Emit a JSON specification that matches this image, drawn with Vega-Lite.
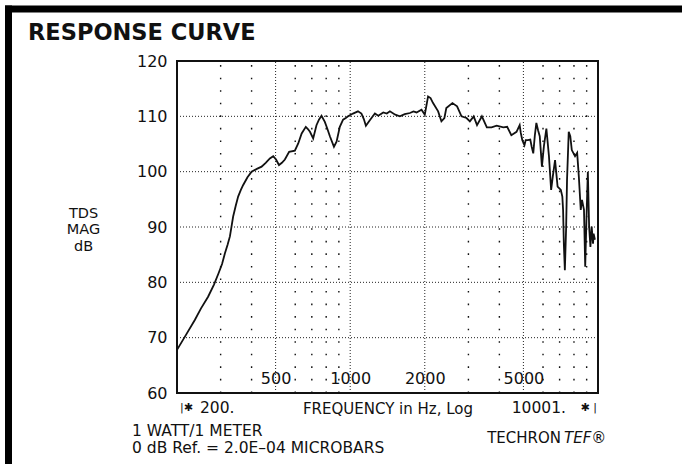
{
  "$schema": "https://vega.github.io/schema/vega-lite/v6.json",
  "width": 674,
  "height": 455.5,
  "autosize": {"type": "none"},
  "padding": {"left": 8, "top": 8.5, "right": 0, "bottom": 0},
  "background": "white",
  "config": {
    "font": "DejaVu Sans",
    "view": {"stroke": null}
  },
  "title": {
    "text": "RESPONSE CURVE",
    "anchor": "start",
    "frame": "group",
    "dx": 20,
    "offset": -57,
    "baseline": "alphabetic",
    "font": "DejaVu Sans",
    "fontSize": 22.5,
    "fontWeight": "bold",
    "color": "#111"
  },
  "datasets": {
    "curve": [
      {"f": 200, "db": 67.8}, {"f": 218, "db": 70.6}, {"f": 236, "db": 73.2}, {"f": 250, "db": 75.3},
      {"f": 267, "db": 77.4}, {"f": 282, "db": 79.6}, {"f": 294, "db": 81.6}, {"f": 304, "db": 83.3},
      {"f": 312, "db": 85.2}, {"f": 320, "db": 86.8}, {"f": 327, "db": 88.3}, {"f": 337, "db": 91.9},
      {"f": 345, "db": 93.8}, {"f": 353, "db": 95.5}, {"f": 362, "db": 96.7}, {"f": 370, "db": 97.6},
      {"f": 385, "db": 99.0}, {"f": 400, "db": 100.0}, {"f": 420, "db": 100.5}, {"f": 439, "db": 100.9},
      {"f": 456, "db": 101.6}, {"f": 474, "db": 102.4}, {"f": 489, "db": 102.8}, {"f": 502, "db": 102.2},
      {"f": 516, "db": 101.2}, {"f": 530, "db": 101.6}, {"f": 545, "db": 102.2}, {"f": 567, "db": 103.6},
      {"f": 598, "db": 103.8}, {"f": 617, "db": 105.1}, {"f": 637, "db": 106.9}, {"f": 662, "db": 108.1},
      {"f": 675, "db": 107.7}, {"f": 688, "db": 107.2}, {"f": 709, "db": 106.0}, {"f": 731, "db": 108.4},
      {"f": 748, "db": 109.4}, {"f": 766, "db": 110.1}, {"f": 790, "db": 109.0}, {"f": 808, "db": 107.8},
      {"f": 828, "db": 106.4}, {"f": 860, "db": 104.5}, {"f": 881, "db": 105.4}, {"f": 908, "db": 108.1},
      {"f": 936, "db": 109.4}, {"f": 960, "db": 109.7}, {"f": 980, "db": 110.0}, {"f": 1026, "db": 110.5},
      {"f": 1075, "db": 110.9}, {"f": 1110, "db": 110.5}, {"f": 1135, "db": 109.5}, {"f": 1157, "db": 108.3},
      {"f": 1200, "db": 109.3}, {"f": 1258, "db": 110.5}, {"f": 1298, "db": 110.1}, {"f": 1360, "db": 110.7},
      {"f": 1405, "db": 110.5}, {"f": 1446, "db": 110.9}, {"f": 1520, "db": 110.3}, {"f": 1586, "db": 110.0},
      {"f": 1660, "db": 110.4}, {"f": 1742, "db": 110.6}, {"f": 1800, "db": 110.9}, {"f": 1853, "db": 110.7},
      {"f": 1940, "db": 111.2}, {"f": 2000, "db": 110.3}, {"f": 2062, "db": 113.6}, {"f": 2110, "db": 113.3},
      {"f": 2160, "db": 112.4}, {"f": 2264, "db": 110.9}, {"f": 2334, "db": 109.1}, {"f": 2400, "db": 109.7},
      {"f": 2443, "db": 111.5}, {"f": 2586, "db": 112.4}, {"f": 2700, "db": 111.8}, {"f": 2813, "db": 110.0},
      {"f": 2948, "db": 109.7}, {"f": 3040, "db": 109.1}, {"f": 3150, "db": 110.0}, {"f": 3250, "db": 108.4},
      {"f": 3400, "db": 110.0}, {"f": 3560, "db": 108.0}, {"f": 3720, "db": 108.0}, {"f": 3900, "db": 108.3},
      {"f": 4150, "db": 108.0}, {"f": 4300, "db": 108.1}, {"f": 4470, "db": 106.6}, {"f": 4690, "db": 107.2},
      {"f": 4830, "db": 108.4}, {"f": 4880, "db": 107.0}, {"f": 4950, "db": 105.7}, {"f": 5050, "db": 104.8},
      {"f": 5110, "db": 105.7}, {"f": 5210, "db": 105.7}, {"f": 5330, "db": 105.8}, {"f": 5400, "db": 104.5},
      {"f": 5480, "db": 103.3}, {"f": 5560, "db": 106.5}, {"f": 5640, "db": 108.8}, {"f": 5730, "db": 107.5},
      {"f": 5820, "db": 106.4}, {"f": 5940, "db": 100.9}, {"f": 6050, "db": 104.6}, {"f": 6190, "db": 107.8},
      {"f": 6340, "db": 102.8}, {"f": 6470, "db": 96.7}, {"f": 6570, "db": 99.1}, {"f": 6710, "db": 102.1},
      {"f": 6870, "db": 97.3}, {"f": 7080, "db": 96.7}, {"f": 7180, "db": 95.5}, {"f": 7230, "db": 93.1},
      {"f": 7280, "db": 87.0}, {"f": 7350, "db": 82.2}, {"f": 7440, "db": 90.1}, {"f": 7500, "db": 98.5},
      {"f": 7620, "db": 107.2}, {"f": 7730, "db": 106.4}, {"f": 7840, "db": 103.9}, {"f": 8080, "db": 102.8},
      {"f": 8240, "db": 103.4}, {"f": 8370, "db": 99.1}, {"f": 8520, "db": 93.1}, {"f": 8620, "db": 94.9},
      {"f": 8780, "db": 93.1}, {"f": 8880, "db": 82.8}, {"f": 8990, "db": 91.9}, {"f": 9100, "db": 100.0},
      {"f": 9210, "db": 90.1}, {"f": 9320, "db": 86.4}, {"f": 9430, "db": 90.1}, {"f": 9550, "db": 87.0},
      {"f": 9600, "db": 88.8}, {"f": 9720, "db": 87.7}
    ],
    "hgrid": [{"db": 70}, {"db": 80}, {"db": 90}, {"db": 100}, {"db": 110}],
    "vgrid": [{"f": 500}, {"f": 1000}, {"f": 2000}, {"f": 5000}],
    "minor": [
      {"f": 300}, {"f": 400}, {"f": 600}, {"f": 700}, {"f": 800}, {"f": 900},
      {"f": 3000}, {"f": 4000}, {"f": 6000}, {"f": 7000}, {"f": 8000}, {"f": 9000}
    ],
    "border": [{"bx": 0, "by": 0}, {"bx": 1, "by": 1}]
  },
  "resolve": {"scale": {"x": "independent", "y": "independent"}},
  "layer": [
    {
      "layer": [
        {
          "data": {"name": "hgrid"},
          "mark": {"type": "rule", "strokeDash": [1, 2], "color": "#222", "strokeWidth": 1},
          "encoding": {
            "y": {
              "field": "db",
              "type": "quantitative",
              "scale": {"domain": [60, 120], "range": [384.5, 52.5], "zero": false, "nice": false},
              "axis": {
                "values": [60, 70, 80, 90, 100, 110, 120],
                "orient": "left",
                "offset": -169,
                "domain": false,
                "ticks": false,
                "tickSize": 0,
                "grid": false,
                "labelPadding": 10,
                "labelFontSize": 16,
                "labelColor": "#111",
                "labelFlush": false,
                "labelBaseline": "middle",
                "title": ["TDS", "MAG", "dB"],
                "titleAngle": 0,
                "titleAlign": "center",
                "titleBaseline": "middle",
                "titleX": -94,
                "titleY": 204.5,
                "titleFontSize": 14.5,
                "titleFontWeight": "normal",
                "titleLineHeight": 16.5,
                "titleColor": "#111"
              }
            },
            "x": {"datum": 200},
            "x2": {"datum": 10001}
          }
        },
        {
          "data": {"name": "vgrid"},
          "mark": {"type": "rule", "strokeDash": [1, 2], "color": "#222", "strokeWidth": 1},
          "encoding": {
            "x": {
              "field": "f",
              "type": "quantitative",
              "scale": {"type": "log", "domain": [200, 10001], "range": [169, 590], "nice": false},
              "axis": {
                "values": [500, 1000, 2000, 5000],
                "format": "d",
                "orient": "bottom",
                "offset": -71,
                "domain": false,
                "ticks": false,
                "tickSize": 0,
                "grid": false,
                "labelPadding": -15,
                "labelBaseline": "middle",
                "labelFontSize": 16,
                "labelColor": "#111",
                "labelFlush": false,
                "labelOverlap": false,
                "title": "FREQUENCY in Hz, Log",
                "titleFontSize": 15,
                "titleFontWeight": "normal",
                "titleColor": "#111",
                "titleBaseline": "middle",
                "titleY": 15
              }
            },
            "y": {"datum": 60},
            "y2": {"datum": 120}
          }
        },
        {
          "data": {"name": "minor"},
          "mark": {"type": "rule", "strokeDash": [1.6, 10.95], "color": "#111", "strokeWidth": 1.4},
          "encoding": {
            "x": {"field": "f", "type": "quantitative"},
            "y": {"datum": 60},
            "y2": {"datum": 120}
          }
        },
        {
          "data": {"values": [{}]},
          "mark": {"type": "rect", "fill": "transparent", "stroke": "#111", "strokeWidth": 2},
          "encoding": {
            "x": {"datum": 200},
            "x2": {"datum": 10001},
            "y": {"datum": 60},
            "y2": {"datum": 120}
          }
        },
        {
          "data": {"name": "curve"},
          "mark": {"type": "line", "color": "#111", "strokeWidth": 1.8},
          "encoding": {
            "x": {"field": "f", "type": "quantitative"},
            "y": {"field": "db", "type": "quantitative"}
          }
        },
        {
          "data": {"values": [{}]},
          "mark": {"type": "text", "align": "left", "baseline": "middle", "dx": 3, "dy": 15, "fontSize": 11, "color": "#111"},
          "encoding": {"x": {"datum": 200}, "y": {"datum": 60}, "text": {"value": "|✱"}}
        },
        {
          "data": {"values": [{}]},
          "mark": {"type": "text", "align": "left", "baseline": "middle", "dx": 23, "dy": 15, "fontSize": 15.5, "color": "#111"},
          "encoding": {"x": {"datum": 200}, "y": {"datum": 60}, "text": {"value": "200."}}
        },
        {
          "data": {"values": [{}]},
          "mark": {"type": "text", "align": "right", "baseline": "middle", "dx": -32, "dy": 15, "fontSize": 15.5, "color": "#111"},
          "encoding": {"x": {"datum": 10001}, "y": {"datum": 60}, "text": {"value": "10001."}}
        },
        {
          "data": {"values": [{}]},
          "mark": {"type": "text", "align": "right", "baseline": "middle", "dx": -1, "dy": 15, "fontSize": 11, "color": "#111"},
          "encoding": {"x": {"datum": 10001}, "y": {"datum": 60}, "text": {"value": "✱ |"}}
        },
        {
          "data": {"values": [{}]},
          "mark": {"type": "text", "align": "left", "baseline": "middle", "dx": -45, "dy": 37.5, "fontSize": 15.5, "color": "#111"},
          "encoding": {"x": {"datum": 200}, "y": {"datum": 60}, "text": {"value": "1 WATT/1 METER"}}
        },
        {
          "data": {"values": [{}]},
          "mark": {"type": "text", "align": "left", "baseline": "middle", "dx": -45, "dy": 54.5, "fontSize": 15.5, "color": "#111"},
          "encoding": {"x": {"datum": 200}, "y": {"datum": 60}, "text": {"value": "0 dB Ref. = 2.0E–04 MICROBARS"}}
        },
        {
          "data": {"values": [{}]},
          "mark": {"type": "text", "align": "right", "baseline": "middle", "dx": -37, "dy": 45, "fontSize": 15, "color": "#111"},
          "encoding": {"x": {"datum": 10001}, "y": {"datum": 60}, "text": {"value": "TECHRON"}}
        },
        {
          "data": {"values": [{}]},
          "mark": {"type": "text", "align": "left", "baseline": "middle", "dx": -34, "dy": 45, "fontSize": 15, "fontStyle": "italic", "color": "#111"},
          "encoding": {"x": {"datum": 10001}, "y": {"datum": 60}, "text": {"value": "TEF®"}}
        }
      ]
    },
    {
      "data": {"name": "border"},
      "mark": {"type": "point", "opacity": 0},
      "encoding": {
        "x": {
          "field": "bx",
          "type": "quantitative",
          "scale": {"domain": [0, 1], "nice": false},
          "axis": {"orient": "top", "offset": 0, "domain": true, "domainWidth": 7, "domainColor": "black", "domainCap": "square", "labels": false, "ticks": false, "grid": false, "title": null}
        },
        "y": {
          "field": "by",
          "type": "quantitative",
          "scale": {"domain": [0, 1], "nice": false},
          "axis": {"orient": "left", "offset": 0, "domain": true, "domainWidth": 7, "domainColor": "black", "domainCap": "square", "labels": false, "ticks": false, "grid": false, "title": null}
        }
      }
    }
  ]
}
